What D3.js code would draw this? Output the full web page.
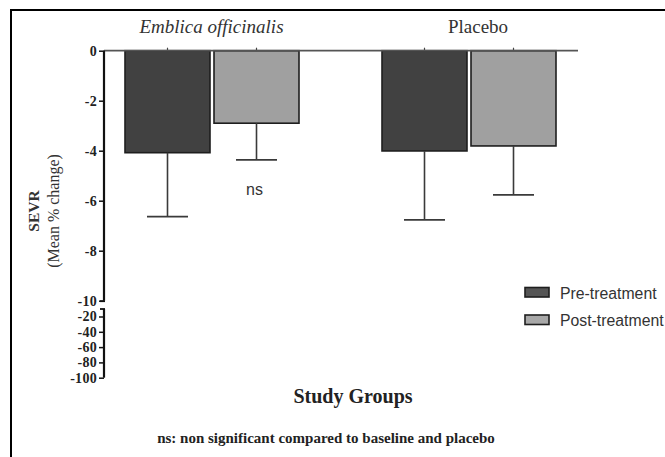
<!DOCTYPE html>
<html>
<head>
<meta charset="utf-8">
<script src="https://cdn.jsdelivr.net/npm/d3@7"></script>
<style>
  html, body { margin: 0; padding: 0; background: #fff; }
  svg { display: block; }
</style>
</head>
<body>
<svg id="chart" width="665" height="457"></svg>
<script>
// SEVR mean % change by study group, before and after treatment
const groups = ["Emblica officinalis", "Placebo"];
const series = ["Pre-treatment", "Post-treatment"];
const meanValues = [[-4.08, -2.9], [-4.01, -3.81]];
const errorValues = [[2.56, 1.47], [2.76, 1.96]];
const upperTicks = [0, -2, -4, -6, -8, -10];
const lowerTicks = [-20, -40, -60, -80, -100];
const seriesColors = ["#414141", "#a0a0a0"];

const svg = d3.select("#chart");
const serif = "'Liberation Serif', 'Times New Roman', serif";
const sans = "'Liberation Sans', Arial, sans-serif";

// frame lines
svg.append("line").attr("x1", 11).attr("x2", 11).attr("y1", 9).attr("y2", 457)
  .attr("stroke", "#000").attr("stroke-width", 2);
svg.append("line").attr("x1", 10).attr("x2", 665).attr("y1", 10).attr("y2", 10)
  .attr("stroke", "#000").attr("stroke-width", 2);

// scales: split y axis (0..-10 above the break, -20..-100 below)
const yUpper = d3.scaleLinear().domain([0, -10]).range([50.7, 300.7]);
const yLower = d3.scaleLinear().domain([-20, -100]).range([316.5, 377.7]);
const xGroup = d3.scaleBand().domain(groups).range([83.5, 597.5]).padding(0);
const xSeries = d3.scaleBand().domain(series).range([41.5, 215.5]).paddingInner(0.045);

const axisX = 104;

// bars
const g = svg.append("g");
groups.forEach((grp, gi) => {
  series.forEach((s, si) => {
    const v = meanValues[gi][si];
    const x = xGroup(grp) + xSeries(s);
    const w = xSeries.bandwidth();
    g.append("rect")
      .attr("x", x).attr("y", yUpper(0))
      .attr("width", w).attr("height", yUpper(v) - yUpper(0))
      .attr("fill", seriesColors[si])
      .attr("stroke", "#1e1e1e").attr("stroke-width", 1.6);
    // error bar (downward)
    const cx = x + w / 2;
    const yEnd = yUpper(v - errorValues[gi][si]);
    g.append("line").attr("x1", cx).attr("x2", cx)
      .attr("y1", yUpper(v)).attr("y2", yEnd)
      .attr("stroke", "#3a3a3a").attr("stroke-width", 1.6);
    g.append("line").attr("x1", cx - 20.5).attr("x2", cx + 20.5)
      .attr("y1", yEnd).attr("y2", yEnd)
      .attr("stroke", "#3a3a3a").attr("stroke-width", 1.8);
    // small tick on the zero line
    g.append("line").attr("x1", cx).attr("x2", cx)
      .attr("y1", yUpper(0) - 3).attr("y2", yUpper(0))
      .attr("stroke", "#444").attr("stroke-width", 1.2);
  });
});

// zero line (category axis)
svg.append("line").attr("x1", axisX).attr("x2", 578)
  .attr("y1", yUpper(0)).attr("y2", yUpper(0))
  .attr("stroke", "#555").attr("stroke-width", 1.8);

// upper y axis
const minus = d => d3.format("d")(d).replace("\u2212", "-");
const upperAxis = d3.axisLeft(yUpper).tickValues(upperTicks).tickSize(5).tickPadding(2)
  .tickFormat(minus);
const ua = svg.append("g").attr("transform", `translate(${axisX},0)`).call(upperAxis);
ua.select(".domain").attr("d", `M0,${yUpper(0)}V${yUpper(-10)}`)
  .attr("stroke", "#111").attr("stroke-width", 2.2);
svg.append("line").attr("x1", axisX - 4).attr("x2", axisX + 1)
  .attr("y1", yUpper(-10) + 0.5).attr("y2", yUpper(-10) + 0.5)
  .attr("stroke", "#111").attr("stroke-width", 1.8);

// lower y axis
const lowerAxis = d3.axisLeft(yLower).tickValues(lowerTicks).tickSize(5).tickPadding(2)
  .tickFormat(minus);
const la = svg.append("g").attr("transform", `translate(${axisX},0)`).call(lowerAxis);
la.select(".domain").attr("d", `M0,309V${yLower(-100)}`)
  .attr("stroke", "#111").attr("stroke-width", 2.2);
svg.append("line").attr("x1", axisX - 4).attr("x2", axisX + 1)
  .attr("y1", 309).attr("y2", 309)
  .attr("stroke", "#111").attr("stroke-width", 1.8);

[ua, la].forEach(a => {
  a.selectAll(".tick line").attr("stroke", "#111").attr("stroke-width", 1.5);
  a.selectAll(".tick text")
    .attr("font-family", serif).attr("font-weight", "bold")
    .attr("font-size", 14).attr("letter-spacing", 0.3).attr("fill", "#222");
});

// group labels above the bars
svg.append("text").attr("x", 211.5).attr("y", 33)
  .attr("text-anchor", "middle").attr("font-family", serif).attr("font-style", "italic")
  .attr("font-size", 19).attr("fill", "#333").text(groups[0]);
svg.append("text").attr("x", 478).attr("y", 33)
  .attr("text-anchor", "middle").attr("font-family", serif)
  .attr("font-size", 19).attr("fill", "#333").text(groups[1]);

// significance label
const postX = xGroup(groups[0]) + xSeries(series[1]) + xSeries.bandwidth() / 2;
svg.append("text").attr("x", postX - 2).attr("y", 195)
  .attr("text-anchor", "middle").attr("font-family", sans)
  .attr("font-size", 16).attr("fill", "#333").text("ns");

// y axis title
const yTitle = svg.append("text")
  .attr("transform", "translate(39,211) rotate(-90)")
  .attr("text-anchor", "middle").attr("font-family", serif).attr("fill", "#333");
yTitle.append("tspan").attr("x", 0).attr("dy", 0)
  .attr("font-weight", "bold").attr("font-size", 15.5).text("SEVR");
yTitle.append("tspan").attr("x", 0).attr("dy", 20)
  .attr("font-size", 16).text("(Mean % change)");

// x axis title and footnote
svg.append("text").attr("x", 353).attr("y", 403)
  .attr("text-anchor", "middle").attr("font-family", serif).attr("font-weight", "bold")
  .attr("font-size", 20).attr("fill", "#222").text("Study Groups");
svg.append("text").attr("x", 326).attr("y", 443)
  .attr("text-anchor", "middle").attr("font-family", serif).attr("font-weight", "bold")
  .attr("font-size", 15).attr("fill", "#222")
  .text("ns: non significant compared to baseline and placebo");

// legend
const legend = svg.append("g").attr("transform", "translate(525,287.5)");
series.forEach((s, i) => {
  const row = legend.append("g").attr("transform", `translate(0,${i * 27.5})`);
  row.append("rect").attr("x", 0).attr("y", 0).attr("width", 24).attr("height", 9.5)
    .attr("fill", i === 0 ? "#555" : "#a8a8a8")
    .attr("stroke", "#1e1e1e").attr("stroke-width", 1.6);
  row.append("text").attr("x", 35).attr("y", 11)
    .attr("font-family", sans).attr("font-size", 15.8).attr("fill", "#333").text(s);
});
</script>
</body>
</html>
